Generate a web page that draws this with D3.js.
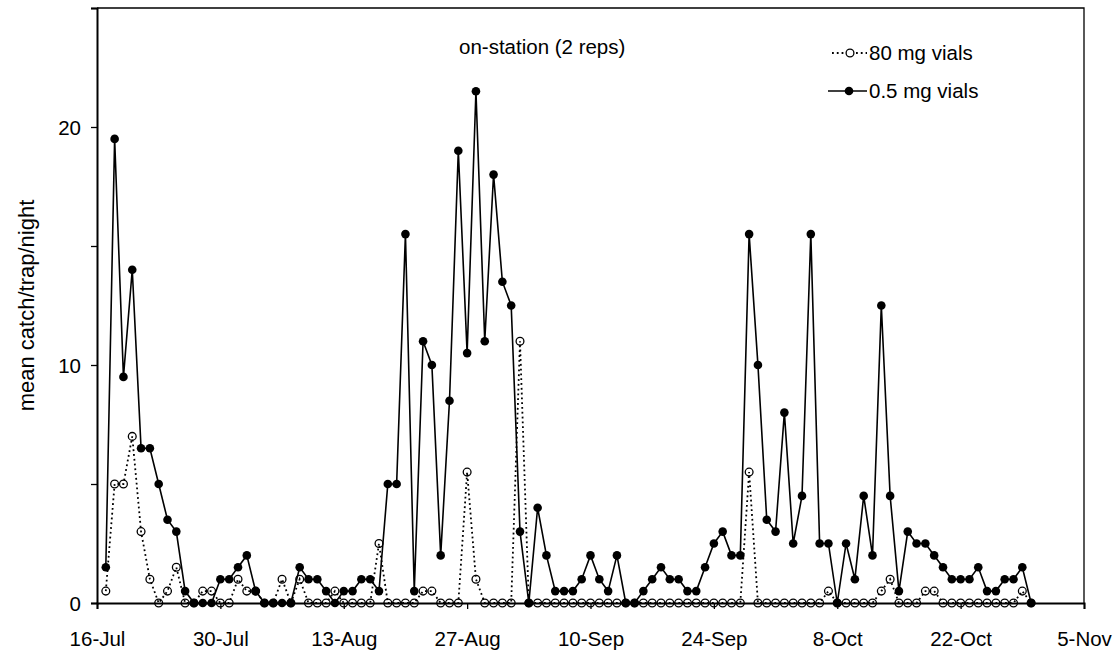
<!DOCTYPE html>
<html><head><meta charset="utf-8">
<script src="https://cdn.jsdelivr.net/npm/d3@7/dist/d3.min.js"></script>
<style>body{margin:0;background:#fff}text{font-family:"Liberation Sans",Arial,sans-serif}</style>
</head><body><svg id="c" width="1120" height="657"></svg>
<script>
const startDay = "17-Jul";          // first sampling night
const tickLabels = ["16-Jul","30-Jul","13-Aug","27-Aug","10-Sep","24-Sep","8-Oct","22-Oct","5-Nov"];
const vials05 = [1.5,19.5,9.5,14,6.5,6.5,5,3.5,3,0.5,0,0,0,1,1,1.5,2,0.5,0,0,0,0,1.5,1,1,0.5,0,0.5,0.5,1,1,0.5,5,5,15.5,0.5,11,10,2,8.5,19,10.5,21.5,11,18,13.5,12.5,3,0,4,2,0.5,0.5,0.5,1,2,1,0.5,2,0,0,0.5,1,1.5,1,1,0.5,0.5,1.5,2.5,3,2,2,15.5,10,3.5,3,8,2.5,4.5,15.5,2.5,2.5,0,2.5,1,4.5,2,12.5,4.5,0.5,3,2.5,2.5,2,1.5,1,1,1,1.5,0.5,0.5,1,1,1.5,0];
const vials80 = [0.5,5,5,7,3,1,0,0.5,1.5,0,0,0.5,0.5,0,0,1,0.5,0.5,0,0,1,0,1,0,0,0,0.5,0,0,0,0,2.5,0,0,0,0,0.5,0.5,0,0,0,5.5,1,0,0,0,0,11,0,0,0,0,0,0,0,0,0,0,0,0,0,0,0,0,0,0,0,0,0,0,0,0,0,5.5,0,0,0,0,0,0,0,0,0.5,0,0,0,0,0,0.5,1,0,0,0,0.5,0.5,0,0,0,0,0,0,0,0,0,0.5,0];
const yTicks = [0,5,10,15,20,25];
const yLabels = [0,10,20];
const title = "on-station (2 reps)";
const yTitle = "mean catch/trap/night";
const legendNames = ["80 mg vials","0.5 mg vials"];

const parse = d3.timeParse("%d-%b-%Y");
const yr = "2001";
const tickDates = tickLabels.map(t => parse(t + "-" + yr));
const d0 = parse(startDay + "-" + yr);
const dates = vials05.map((_, i) => d3.timeDay.offset(d0, i));

const L = 97, R = 1084, T = 8, B = 603;
const FS = 20.5;
const svg = d3.select("#c");
const x = d3.scaleTime().domain([tickDates[0], tickDates[tickDates.length-1]]).range([L, R]);
const y = d3.scaleLinear().domain([0, 25]).range([B, T]);

// frame (top/right)
svg.append("path").attr("d", `M${L},${T}H${R}V${B}`).attr("fill","none").attr("stroke","#000").attr("stroke-width",1.3);

// axes
const xAxis = d3.axisBottom(x).tickValues(tickDates).tickFormat((d,i)=>tickLabels[i]).tickSizeOuter(0).tickSize(6);
const gx = svg.append("g").attr("transform", `translate(0,${B})`).call(xAxis);
gx.select(".domain").attr("stroke-width",2);
gx.selectAll(".tick line").attr("stroke-width",1.3);
gx.selectAll("text").attr("font-size",FS).attr("fill","#000").attr("y",43).attr("dy",0);

const yAxis = d3.axisLeft(y).tickValues(yTicks).tickFormat(d => yLabels.includes(d) ? d : "").tickSizeOuter(0).tickSize(6);
const gy = svg.append("g").attr("transform", `translate(${L},0)`).call(yAxis);
gy.select(".domain").attr("stroke-width",2);
gy.selectAll(".tick line").attr("stroke-width",1.3);
gy.selectAll("text").attr("font-size",FS).attr("fill","#000").attr("x",-16).attr("dy","0.35em");

svg.append("text").attr("transform", `translate(34,${(T+B)/2}) rotate(-90)`).attr("text-anchor","middle").attr("font-size",22).text(yTitle);
svg.append("text").attr("x",459).attr("y",54).attr("text-anchor","start").attr("font-size",FS).text(title);

const line = d3.line().x((d,i)=>x(dates[i])).y(d=>y(d));

// 80 mg (dotted, open)
svg.append("path").datum(vials80).attr("d", line).attr("fill","none").attr("stroke","#000").attr("stroke-width",1.8).attr("stroke-dasharray","1.8,3");
svg.append("g").selectAll("circle").data(vials80).join("circle")
  .attr("cx",(d,i)=>x(dates[i])).attr("cy",d=>y(d)).attr("r",3.9)
  .attr("fill","none").attr("stroke","#000").attr("stroke-width",1.3);

// 0.5 mg (solid, filled)
svg.append("path").datum(vials05).attr("d", line).attr("fill","none").attr("stroke","#000").attr("stroke-width",1.6);
svg.append("g").selectAll("circle").data(vials05).join("circle")
  .attr("cx",(d,i)=>x(dates[i])).attr("cy",d=>y(d)).attr("r",4.3).attr("fill","#000");

// legend
const lg = svg.append("g");
lg.append("line").attr("x1",832).attr("x2",867).attr("y1",53).attr("y2",53).attr("stroke","#000").attr("stroke-width",1.8).attr("stroke-dasharray","1.8,3");
lg.append("circle").attr("cx",850).attr("cy",53).attr("r",3.9).attr("fill","#fff").attr("stroke","#000").attr("stroke-width",1.3);
lg.append("text").attr("x",869).attr("y",60).attr("font-size",FS).text(legendNames[0]);
lg.append("line").attr("x1",828).attr("x2",867).attr("y1",91).attr("y2",91).attr("stroke","#000").attr("stroke-width",1.6);
lg.append("circle").attr("cx",849).attr("cy",91).attr("r",4.3).attr("fill","#000");
lg.append("text").attr("x",869).attr("y",98).attr("font-size",FS).text(legendNames[1]);
</script></body></html>
